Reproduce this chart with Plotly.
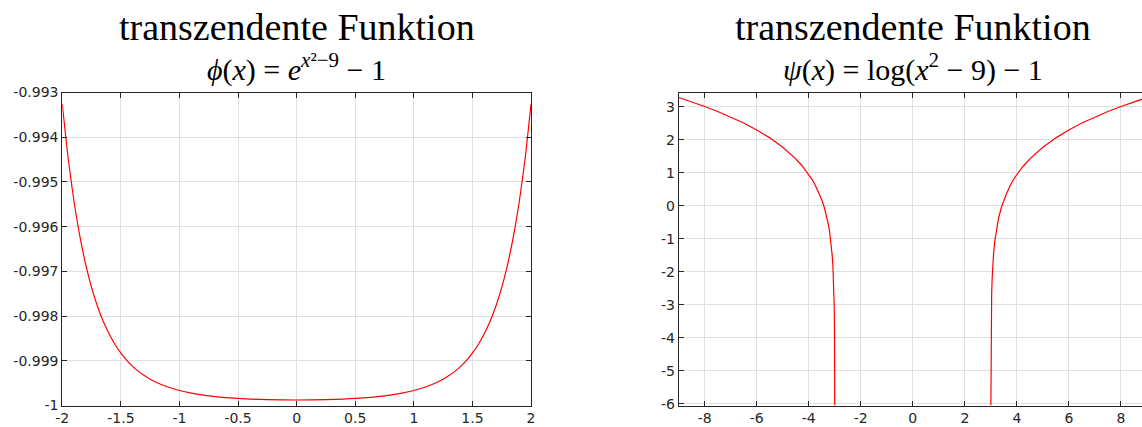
import plotly.graph_objects as go

# ---- data ----
phi_x = [-2.0, -1.95, -1.9, -1.85, -1.8, -1.75, -1.7, -1.65, -1.6, -1.55, -1.5, -1.45, -1.4, -1.35,
         -1.3, -1.25, -1.2, -1.1, -1.0, -0.9, -0.75, -0.5, -0.25, 0.0,
         0.25, 0.5, 0.75, 0.9, 1.0, 1.1, 1.2, 1.25, 1.3, 1.35, 1.4, 1.45, 1.5, 1.55, 1.6,
         1.65, 1.7, 1.75, 1.8, 1.85, 1.9, 1.95, 2.0]
phi_y = [-0.993262, -0.994470, -0.995438, -0.996218, -0.996849, -0.997363, -0.997779, -0.998123,
         -0.998403, -0.998636, -0.998829, -0.998989, -0.999124, -0.999237, -0.999331, -0.999412,
         -0.999479, -0.999586, -0.999665, -0.999723, -0.999784, -0.999842, -0.999869, -0.999877,
         -0.999869, -0.999842, -0.999784, -0.999723, -0.999665, -0.999586, -0.999479, -0.999412,
         -0.999331, -0.999237, -0.999124, -0.998989, -0.998829, -0.998636, -0.998403, -0.998123,
         -0.997779, -0.997363, -0.996849, -0.996218, -0.995438, -0.994470, -0.993262]

psi_left_x = [-9.0, -8.5, -8.0, -7.5, -7.0, -6.5, -6.0, -5.5, -5.0, -4.75, -4.5, -4.25, -4.0,
              -3.85, -3.75, -3.6, -3.5, -3.4, -3.3, -3.25, -3.2, -3.15, -3.1, -3.07, -3.05,
              -3.03, -3.02, -3.01, -3.005, -3.002, -3.001]
psi_left_y = [3.277, 3.147, 3.007, 2.855, 2.689, 2.504, 2.296, 2.056, 1.773, 1.608, 1.420,
              1.204, 0.946, 0.771, 0.622, 0.365, 0.179, -0.060, -0.363, -0.555, -0.785,
              -1.081, -1.494, -1.856, -2.196, -2.710, -3.117, -3.812, -4.506, -5.423, -6.05]
psi_right_x = [3.001, 3.002, 3.005, 3.01, 3.02, 3.03, 3.05, 3.07, 3.1, 3.15, 3.2, 3.25, 3.3,
               3.4, 3.5, 3.6, 3.75, 3.85, 4.0, 4.25, 4.5, 4.75, 5.0, 5.5, 6.0, 6.5, 7.0,
               7.5, 8.0, 8.5, 9.0]
psi_right_y = [-6.05, -5.423, -4.506, -3.812, -3.117, -2.710, -2.196, -1.856, -1.494, -1.081,
               -0.785, -0.555, -0.363, -0.060, 0.179, 0.365, 0.622, 0.771, 0.946, 1.204,
               1.420, 1.608, 1.773, 2.056, 2.296, 2.504, 2.689, 2.855, 3.007, 3.147, 3.277]

left_xticks = [-2, -1.5, -1, -0.5, 0, 0.5, 1, 1.5, 2]
left_xtext = ["-2", "-1.5", "-1", "-0.5", "0", "0.5", "1", "1.5", "2"]
left_yticks = [-1, -0.999, -0.998, -0.997, -0.996, -0.995, -0.994, -0.993]
left_ytext = ["-1", "-0.999", "-0.998", "-0.997", "-0.996", "-0.995", "-0.994", "-0.993"]
right_xticks = [-8, -6, -4, -2, 0, 2, 4, 6, 8]
right_xtext = ["-8", "-6", "-4", "-2", "0", "2", "4", "6", "8"]
right_yticks = [-6, -5, -4, -3, -2, -1, 0, 1, 2, 3]
right_ytext = ["-6", "-5", "-4", "-3", "-2", "-1", "0", "1", "2", "3"]

main_title = "transzendente Funktion"
sub_left = "<i>ϕ</i>(<i>x</i>) = <i>e</i><sup><i>x</i>²−9</sup> − 1"
sub_right = "<i>ψ</i>(<i>x</i>) = log(<i>x</i><sup>2</sup> − 9) − 1"

# ---- figure ----
W, H = 1142, 427
px = lambda p: p / W
py = lambda p: 1 - p / H

fig = go.Figure()
line = dict(color="#ff0000", width=1.2)
fig.add_trace(go.Scatter(x=phi_x, y=phi_y, mode="lines", line=dict(shape="spline", smoothing=0.6, **line),
                         xaxis="x", yaxis="y", showlegend=False, hoverinfo="skip"))
fig.add_trace(go.Scatter(x=psi_left_x, y=psi_left_y, mode="lines", line=line,
                         xaxis="x2", yaxis="y2", showlegend=False, hoverinfo="skip"))
fig.add_trace(go.Scatter(x=psi_right_x, y=psi_right_y, mode="lines", line=line,
                         xaxis="x2", yaxis="y2", showlegend=False, hoverinfo="skip"))

tickfont = dict(family="DejaVu Sans", size=14, color="#262626")
common = dict(showline=True, linecolor="#262626", linewidth=1, ticks="inside", ticklen=5,
              tickcolor="#262626", showgrid=True, gridcolor="#e0e0e0", gridwidth=1,
              zeroline=False, tickfont=tickfont, fixedrange=True, automargin=False)

ydom = [py(405.5), py(92.5)]
fig.update_layout(
    width=W, height=H, margin=dict(l=0, r=0, t=0, b=0, pad=0),
    paper_bgcolor="white", plot_bgcolor="white",
    xaxis=dict(domain=[px(62.3), px(531)], range=[-2, 2], tickvals=left_xticks, ticktext=left_xtext,
               mirror="ticks", anchor="y", **common),
    yaxis=dict(domain=ydom, range=[-1, -0.993], tickvals=left_yticks, ticktext=left_ytext,
               mirror="ticks", anchor="x", **common),
    xaxis2=dict(domain=[px(678.7), 1.0], range=[-9, 8.81], tickvals=right_xticks, ticktext=right_xtext,
                mirror="ticks", anchor="y2", **common),
    yaxis2=dict(domain=ydom, range=[-6.05, 3.43], tickvals=right_yticks, ticktext=right_ytext,
                mirror=False, anchor="x2", **common),
)

title_font = dict(family="Liberation Serif", size=38, color="#000000")
sub_font = dict(family="Liberation Serif", size=30, color="#000000")
for cx in (296.7, 912.5):
    fig.add_annotation(text=main_title, x=px(cx), y=py(27), xref="paper", yref="paper",
                       xanchor="center", yanchor="middle", showarrow=False, font=title_font)
fig.add_annotation(text=sub_left, x=px(296.7), y=py(68), xref="paper", yref="paper",
                   xanchor="center", yanchor="middle", showarrow=False, font=sub_font)
fig.add_annotation(text=sub_right, x=px(912.5), y=py(68), xref="paper", yref="paper",
                   xanchor="center", yanchor="middle", showarrow=False, font=sub_font)

fig.write_html("out.html", config={"displayModeBar": False},
               post_script="document.body.style.margin='0';document.body.style.overflow='hidden';")
